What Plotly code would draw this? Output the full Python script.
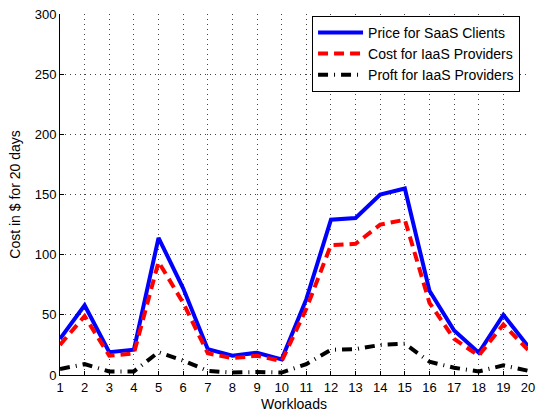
import plotly.graph_objects as go

workloads = list(range(1, 21))
price_saas = [30, 58, 19, 21, 114, 72, 21.5, 16, 18.5, 13, 63, 129, 130.5, 150, 155, 70, 37, 18.5, 50, 24]
cost_iaas = [25, 49, 16, 18, 94, 60, 18, 14, 16, 11.5, 55, 108, 109, 125, 129, 60, 30, 16, 42, 21]
profit_iaas = [5, 9, 3, 3, 19, 12, 3.5, 2, 2.5, 2, 9, 21, 21.5, 25, 26, 11, 6, 3, 8, 3.5]

x_ticks = list(range(1, 21))
y_ticks = [0, 50, 100, 150, 200, 250, 300]

fam = "Liberation Sans, Arial, Helvetica, sans-serif"
font = dict(family=fam, size=13, color="black")

fig = go.Figure()
fig.add_trace(go.Scatter(x=workloads, y=price_saas, mode="lines", name="Price for SaaS Clients",
                         line=dict(color="#0000ff", width=4)))
fig.add_trace(go.Scatter(x=workloads, y=cost_iaas, mode="lines", name="Cost for IaaS Providers",
                         line=dict(color="#ff0000", width=4, dash="10px,6px")))
fig.add_trace(go.Scatter(x=workloads, y=profit_iaas, mode="lines", name="Proft for IaaS Providers",
                         line=dict(color="#000000", width=4, dash="10px,6px,1px,6px")))

fig.update_layout(
    width=541, height=415,
    margin=dict(l=60, r=6, t=14, b=39),
    paper_bgcolor="white", plot_bgcolor="white",
    font=font,
    showlegend=True,
    legend=dict(x=0.983, y=0.995, xanchor="right", yanchor="top",
                bgcolor="white", bordercolor="black", borderwidth=1,
                itemwidth=45,
                font=dict(family=fam, size=14, color="black"), tracegroupgap=0),
)
fig.update_xaxes(
    range=[1, 20], tickvals=x_ticks, ticktext=[str(v) for v in x_ticks],
    showline=True, linecolor="black", linewidth=1, mirror=False,
    ticks="inside", ticklen=4, tickcolor="black",
    ticklabeloverflow="allow",
    showgrid=True, gridcolor="#444444", griddash="1px,4px", gridwidth=1,
    zeroline=False,
    title=dict(text="Workloads", standoff=5, font=dict(family=fam, size=14, color="black")),
)
fig.update_yaxes(
    range=[0, 300], tickvals=y_ticks,
    showline=True, linecolor="black", linewidth=1, mirror=False,
    ticks="inside", ticklen=4, tickcolor="black",
    showgrid=True, gridcolor="#444444", griddash="1px,4px", gridwidth=1,
    zeroline=False,
    title=dict(text="Cost in $ for 20 days", standoff=10, font=dict(family=fam, size=14, color="black")),
)

fig.write_html("out.html", config={"displayModeBar": False},
               post_script="document.body.style.margin='0';document.body.style.overflow='hidden';")
